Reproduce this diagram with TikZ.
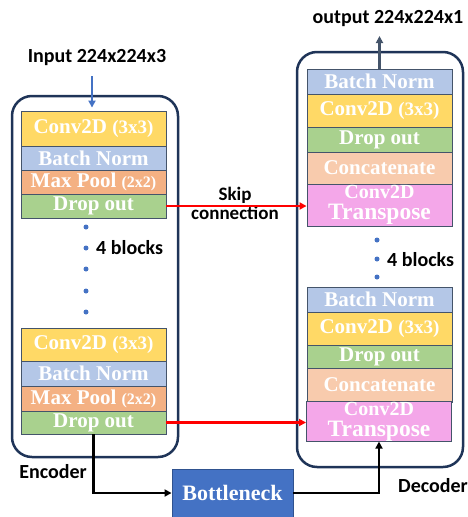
\documentclass[tikz,border=0pt]{standalone}
\usepackage{fontspec}
\setmainfont{Liberation Serif}
\newfontfamily\labfont{Carlito}
\usetikzlibrary{arrows.meta}
\definecolor{cconv}{HTML}{FFD966}
\definecolor{cbn}{HTML}{B4C7E7}
\definecolor{cmp}{HTML}{F4B183}
\definecolor{cdrop}{HTML}{A9D18E}
\definecolor{ccat}{HTML}{F8CBAD}
\definecolor{ctr}{HTML}{F4A7E9}
\definecolor{cbott}{HTML}{4472C4}
\definecolor{cbottb}{HTML}{2F528F}
\definecolor{cnavy}{HTML}{1F3458}
\definecolor{cblkb}{HTML}{44546A}
\definecolor{cdot}{HTML}{4472C4}
\definecolor{cout}{HTML}{44546A}
\begin{document}
\begin{tikzpicture}[x=1pt,y=-1pt,
  outerbox/.style={draw=cnavy, line width=2.5pt, rounded corners=20pt, minimum width=166pt, inner sep=0pt},
  blk/.style={draw=cblkb, line width=0.9pt, minimum width=145pt, inner sep=0pt, text=white,
    font=\bfseries\fontsize{21}{21}\selectfont},
  lab/.style={font=\labfont\bfseries\fontsize{20}{21}\selectfont, inner sep=0pt, text=black},
  dotmark/.style={fill=cdot, shape=circle, minimum size=5pt, inner sep=0pt, draw=none},
  skiparrow/.style={draw=red, line width=2.4pt, -{Triangle[length=7pt,width=7pt]}},
  blackarrow/.style={draw=black, line width=2.4pt, -{Triangle[length=7pt,width=7pt]}},
  inarrow/.style={draw=cbott, line width=2.4pt, -{Triangle[length=7pt,width=7pt]}},
  outarrow/.style={draw=cout, line width=2.4pt, -{Triangle[length=7pt,width=7pt]}}]
\useasboundingbox (0,0) rectangle (467,517);

% outer boxes
\node[outerbox, minimum height=361pt] (enc) at (95,276.5) {};
\node[outerbox, minimum height=415pt] (dec) at (380,259.5) {};

% encoder top stack
\node[blk, fill=cconv, minimum height=35pt] (e1c) at (93.5,128.5) {Conv2D {\fontsize{19}{19}\selectfont(3x3)}};
\node[blk, fill=cbn, minimum height=24pt] (e1b) at (93.5,158) {Batch Norm};
\node[blk, fill=cmp, minimum height=24pt] (e1m) at (93.5,182) {Max Pool {\fontsize{16}{16}\selectfont(2x2)}};
\node[blk, fill=cdrop, minimum height=24pt] (e1d) at (93.5,206) {Drop out};

% encoder bottom stack
\node[blk, fill=cconv, minimum height=33pt] (e2c) at (93.5,344.5) {Conv2D {\fontsize{19}{19}\selectfont(3x3)}};
\node[blk, fill=cbn, minimum height=25pt] (e2b) at (93.5,373.5) {Batch Norm};
\node[blk, fill=cmp, minimum height=25pt] (e2m) at (93.5,398.5) {Max Pool {\fontsize{16}{16}\selectfont(2x2)}};
\node[blk, fill=cdrop, minimum height=23pt] (e2d) at (93.5,422.5) {Drop out};

% encoder dots
\node[dotmark] (ed1) at (86,227) {};
\node[dotmark] (ed2) at (86,248) {};
\node[dotmark] (ed3) at (86,269) {};
\node[dotmark] (ed4) at (86,291) {};
\node[dotmark] (ed5) at (86,312) {};
\node[lab, anchor=west] (eblk) at (96,248) {4 blocks};

% decoder top stack
\node[blk, fill=cbn, minimum height=25pt] (d1b) at (379.5,81.5) {Batch Norm};
\node[blk, fill=cconv, minimum height=33pt] (d1c) at (379.5,110.5) {Conv2D {\fontsize{19}{19}\selectfont(3x3)}};
\node[blk, fill=cdrop, minimum height=25pt] (d1d) at (379.5,139.5) {Drop out};
\node[blk, fill=ccat, minimum height=32pt] (d1k) at (379.5,168) {Concatenate};
\node[blk, fill=ctr, minimum height=42pt, align=center] (d1t) at (379.5,205)
  {\fontsize{20}{16}\selectfont Conv2D\\\fontsize{23.5}{16}\selectfont Transpose};

% decoder dots
\node[dotmark] (dd1) at (377,240) {};
\node[dotmark] (dd2) at (377,259) {};
\node[dotmark] (dd3) at (377,277) {};
\node[lab, anchor=west] (dblk) at (387,260) {4 blocks};

% decoder bottom stack
\node[blk, fill=cbn, minimum height=25pt] (d2b) at (379.5,299.5) {Batch Norm};
\node[blk, fill=cconv, minimum height=33pt] (d2c) at (379.5,328.5) {Conv2D {\fontsize{19}{19}\selectfont(3x3)}};
\node[blk, fill=cdrop, minimum height=23pt] (d2d) at (379.5,356.5) {Drop out};
\node[blk, fill=ccat, minimum height=34pt] (d2k) at (379.5,385) {Concatenate};
\node[blk, fill=ctr, minimum height=39pt, align=center] (d2t) at (379,421.5)
  {\fontsize{20}{16}\selectfont Conv2D\\\fontsize{23.5}{16}\selectfont Transpose};

% bottleneck
\node[draw=cbottb, line width=0.9pt, fill=cbott, minimum width=121pt, minimum height=48pt, inner sep=0pt,
  text=white, font=\bfseries\fontsize{22}{22}\selectfont] (bn) at (232.5,493) {Bottleneck};

% labels
\node[lab] (inlab) at (97,58) {Input 224x224x3};
\node[lab] (outlab) at (388,19) {output 224x224x1};
\node[lab, align=center, font=\labfont\bfseries\fontsize{19}{19}\selectfont] (skiplab) at (235,203) {Skip\\connection};
\node[lab] (enclab) at (53,472) {Encoder};
\node[lab] (declab) at (433,486) {Decoder};

% arrows
\coordinate (inA) at (92,76);
\draw[inarrow, shorten >=3pt] (inA) -- (inA |- e1c.north);
\coordinate (outA) at (379.5,36);
\draw[outarrow] (d1b.north) -- (outA);
\draw[skiparrow] (e1d.east) -- (e1d.east -| d1t.west);
\draw[skiparrow] (e2d.east) -- (e2d.east -| d2t.west);
\draw[blackarrow] (e2d.south) |- (bn.west);
\draw[blackarrow] (bn.east) -| (d2t.south);
\end{tikzpicture}
\end{document}
